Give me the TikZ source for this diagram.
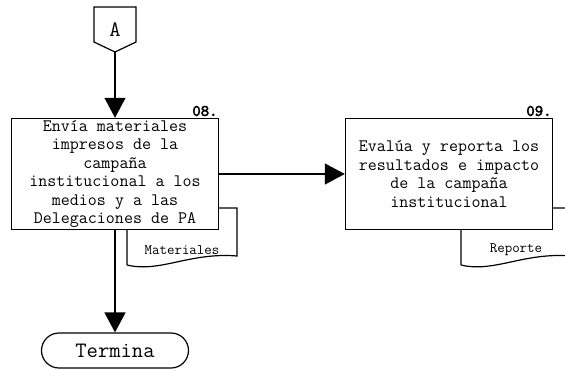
\documentclass[tikz,border=0pt]{standalone}
\usepackage{fontspec}
\newfontfamily\monobold{lmmono10-regular.otf}[FakeBold=3]
\usetikzlibrary{positioning,calc,arrows.meta}
\tikzset{
  actividad/.style = {rectangle,draw,fill=white,line width=1.5pt,
                      minimum width=207pt,minimum height=111pt,
                      inner ysep=0pt,align=center,
                      font=\ttfamily\fontsize{17.5}{18.4}\selectfont},
  docline/.style   = {line width=1.2pt},
  doclabel/.style  = {inner sep=0pt, font=\ttfamily\fontsize{14.5}{16}\selectfont},
  numlabel/.style  = {anchor=south east,inner sep=1.5pt,
                      font=\monobold\fontsize{16}{18}\selectfont},
  terminal/.style  = {rectangle,draw,rounded corners=17.5pt,line width=1.2pt,
                      minimum width=147pt,minimum height=35pt,
                      font=\ttfamily\fontsize{22}{24}\selectfont},
  flujo/.style     = {line width=1.5pt,->},
  >={Triangle[length=20pt,width=21pt]}
}
\newcommand{\DrawActividad}[5]{%
  % draws the document shape (behind the box)
  \draw[docline] ($#2+(12,91)$) -- ($#2+(12,34)$) -- ($#2+(122,34)$)
    -- ($#2+(122,82)$) .. controls ($#2+(75,78)$) and ($#2+(45,99)$) .. ($#2+(12,91)$);
  % displays document label
  \node[doclabel] at ($#2+(67,76)$) {#5};
  % draws the activity box
  \node[actividad] (#1) at #2 {#4};
  % displays activity number (top right)
  \node[numlabel] at (#1.north east) {#3};
}

\begin{document}
\begin{tikzpicture}[x=1pt,y=-1pt]
    \clip (0,0) rectangle (565,370);

    % off-page connector
    \draw[line width=1.2pt] (94,7) -- (136,7) -- (136,42) -- (115,52) -- (94,42) -- cycle;
    \node[font=\ttfamily\fontsize{22}{24}\selectfont] (conA) at (115,30) {A};
    \coordinate (conA tip) at (115,52);

    \DrawActividad{act08}{(115,174)}
    {08.}
    {Envía materiales\\impresos de la\\campaña\\institucional a los\\medios y a las\\Delegaciones de PA}
    {Materiales}

    \DrawActividad{act09}{(449,174)}
    {09.}
    {Evalúa y reporta los\\resultados e impacto\\de la campaña\\institucional}
    {Reporte}

    \node[terminal] (fin) at (115,350.5) {Termina};

    \draw[flujo] (conA tip) -- (act08);
    \draw[flujo] (act08) -- (act09);
    \draw[flujo] (act08) -- (fin);
  \end{tikzpicture}
\end{document}
